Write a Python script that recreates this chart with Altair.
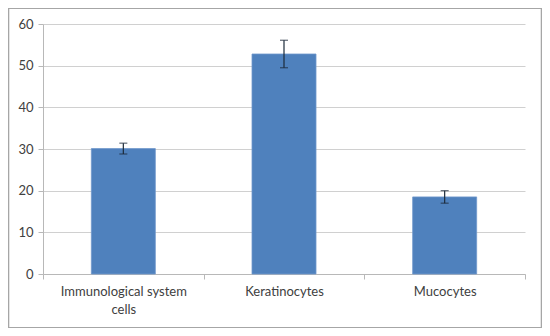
import altair as alt
import pandas as pd

categories = ["Immunological system cells", "Keratinocytes", "Mucocytes"]
values = [30.1, 52.8, 18.5]
errors = [1.3, 3.3, 1.5]

df = pd.DataFrame({"cat": categories, "val": values, "err": errors})
df["lo"] = df["val"] - df["err"]
df["hi"] = df["val"] + df["err"]

W, H = 482, 250
FONT = "Lato"
LABEL_COLOR = "#404040"

x = alt.X(
    "cat:N",
    sort=categories,
    title=None,
    scale=alt.Scale(paddingInner=0, paddingOuter=0),
    axis=alt.Axis(
        labelAngle=0,
        tickBand="extent",
        tickSize=5,
        labelPadding=6,
        labelFont=FONT,
        labelFontSize=13,
        labelColor=LABEL_COLOR,
        labelLineHeight=18,
        labelExpr="datum.value == 'Immunological system cells' ? ['Immunological system', 'cells'] : datum.value",
        domainColor="#b8b8b8",
        tickColor="#b8b8b8",
        grid=False,
    ),
)

bars = alt.Chart(df).mark_bar(size=64, color="#4f81bd", stroke="#7098cc", strokeWidth=0.8).encode(
    x=x,
    y=alt.Y(
        "val:Q",
        title=None,
        scale=alt.Scale(domain=[0, 60]),
        axis=alt.Axis(
            values=[0, 10, 20, 30, 40, 50, 60],
            tickSize=5,
            labelPadding=5,
            labelFont=FONT,
            labelFontSize=13,
            labelColor=LABEL_COLOR,
            gridColor="#d0d0d0",
            domainColor="#b8b8b8",
            tickColor="#b8b8b8",
        ),
    ),
)

err_rule = alt.Chart(df).mark_rule(color="#1c2a3a", strokeWidth=1.2).encode(
    x=alt.X("cat:N", sort=categories),
    y="lo:Q",
    y2="hi:Q",
)
cap_lo = alt.Chart(df).mark_tick(color="#1c2a3a", size=8, thickness=1.2).encode(
    x=alt.X("cat:N", sort=categories),
    y="lo:Q",
)
cap_hi = alt.Chart(df).mark_tick(color="#1c2a3a", size=8, thickness=1.2).encode(
    x=alt.X("cat:N", sort=categories),
    y="hi:Q",
)

border = alt.Chart(df).mark_rect(fill=None, stroke="#a6a6a6", strokeWidth=1.2).encode(
    x=alt.value(-34.5), x2=alt.value(W + 16.5),
    y=alt.value(-15.5), y2=alt.value(H + 53.5),
)

chart = alt.layer(bars, err_rule, cap_lo, cap_hi, border).properties(
    width=W,
    height=H,
    autosize=alt.AutoSizeParams(type="none"),
    padding={"left": 35, "top": 16, "right": 17, "bottom": 54},
    background="white",
).configure_view(stroke=None)

chart.save("out.html", embed_options={"renderer": "svg", "actions": False})
